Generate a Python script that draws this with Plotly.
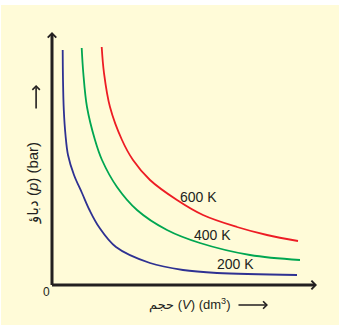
import plotly.graph_objects as go

# Isotherms (V in arbitrary units, p in arbitrary units)
V_200 = [1.07, 1.10, 1.18, 1.35, 1.6, 2.2, 3.0, 3.75, 4.7, 6.4, 9.8, 13.1, 16.5, 24.5]
p_200 = [23.5, 20.5, 17.5, 15.0, 13.0, 11.0, 9.2, 7.5, 5.8, 3.8, 2.2, 1.5, 1.2, 1.0]

V_400 = [2.97, 3.13, 3.5, 4.3, 5.0, 6.5, 8.5, 11.5, 14.8, 19.8, 24.8]
p_400 = [23.7, 21.2, 17.8, 14.5, 12.5, 9.8, 7.5, 5.5, 4.2, 3.0, 2.5]

V_600 = [4.97, 5.2, 5.8, 7.0, 8.1, 9.8, 12.5, 15.1, 18.5, 21.5, 24.6]
p_600 = [23.8, 21.2, 17.8, 14.5, 12.5, 10.5, 8.5, 7.0, 5.8, 5.0, 4.4]

labels = ["200 K", "400 K", "600 K"]
label_V = [18.3, 16.0, 14.6]
label_p = [2.1, 5.0, 8.8]
colors = ["#2E3192", "#00A651", "#ED1C24"]

INK = "#231F20"
BG = "#FFFBD8"
FONT = "Liberation Sans, Arial, DejaVu Sans, sans-serif"

fig = go.Figure()
for V, p, c in zip([V_200, V_400, V_600], [p_200, p_400, p_600], colors):
    fig.add_trace(go.Scatter(x=V, y=p, mode="lines",
                             line=dict(color=c, width=1.8, shape="spline", smoothing=1.0),
                             hoverinfo="skip", showlegend=False))

ann = []
for t, x, y in zip(labels, label_V, label_p):
    ann.append(dict(x=x, y=y, xref="x", yref="y", text=t, showarrow=False,
                    font=dict(size=14, color=INK, family=FONT)))

# axes as arrows
ann.append(dict(x=26.5, y=0, ax=-0.15, ay=0, xref="x", yref="y", axref="x", ayref="y",
                text="", showarrow=True, arrowhead=4, arrowsize=0.55, arrowwidth=3,
                arrowcolor=INK, standoff=0, startstandoff=0))
ann.append(dict(x=0, y=25.3, ax=0, ay=-0.15, xref="x", yref="y", axref="x", ayref="y",
                text="", showarrow=True, arrowhead=4, arrowsize=0.55, arrowwidth=3,
                arrowcolor=INK, standoff=0, startstandoff=0))

# origin label
ann.append(dict(x=-0.019, y=-0.028, xref="paper", yref="paper", text="0", showarrow=False,
                xanchor="center", yanchor="middle",
                font=dict(size=12, color=INK, family=FONT)))

# y label and its arrow
ann.append(dict(x=-0.072, y=0.403, xref="paper", yref="paper", text="دباؤ (<i>p</i>) (bar)",
                textangle=-90, showarrow=False, xanchor="center", yanchor="middle",
                font=dict(size=15, color=INK, family=FONT)))
ann.append(dict(x=-0.060, y=0.7905, ax=0, ay=25, xref="paper", yref="paper",
                text="", showarrow=True, arrowhead=4, arrowsize=0.9, arrowwidth=1.6,
                arrowcolor=INK, standoff=0, startstandoff=0))

# x label and its arrow
ann.append(dict(x=0.52, y=-0.079, xref="paper", yref="paper",
                text="حجم (<i>V</i>) (dm<sup>3</sup>)", xanchor="center", yanchor="middle",
                showarrow=False, font=dict(size=13, color=INK, family=FONT)))
ann.append(dict(x=0.815, y=-0.079, ax=-31, ay=0, xref="paper", yref="paper",
                text="", showarrow=True, arrowhead=4, arrowsize=0.9, arrowwidth=1.6,
                arrowcolor=INK, standoff=0, startstandoff=0))

# yellow panel with thin white border
pw, ph = 265.0, 253.0
shapes = [dict(type="rect", xref="paper", yref="paper",
               x0=(1 - 52) / pw, x1=(339 - 52) / pw,
               y0=(285 - 325) / ph, y1=(285 - 5) / ph,
               fillcolor=BG, line=dict(width=0), layer="below")]

fig.update_layout(
    width=341, height=325,
    margin=dict(l=52, r=24, t=32, b=40),
    paper_bgcolor="white", plot_bgcolor="rgba(0,0,0,0)",
    xaxis=dict(range=[0, 26.5], visible=False, fixedrange=True),
    yaxis=dict(range=[0, 25.3], visible=False, fixedrange=True),
    annotations=ann, shapes=shapes, showlegend=False,
)

fig.write_html("out.html")
